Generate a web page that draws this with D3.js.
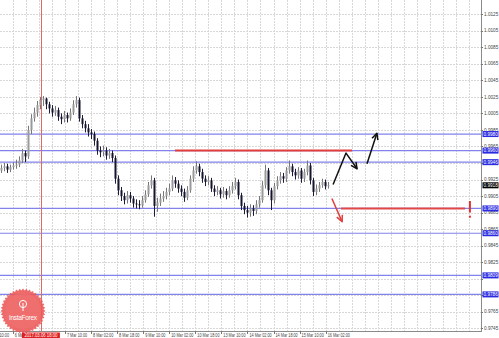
<!DOCTYPE html>
<html><head><meta charset="utf-8">
<script src="https://cdn.jsdelivr.net/npm/d3@7"></script>
<style>html,body{margin:0;padding:0;background:#fff;overflow:hidden}svg{display:block}</style>
</head><body><svg id="c" width="499" height="338"></svg>
<script>
// ---------- DATA ----------
const firstOpen = 0.9936;
const closes = [0.9939,0.9941,0.9937,0.9940,0.9942,0.9943,0.9948,0.9957,0.9953,0.9985,
0.9999,1.0006,1.0015,1.0021,1.0023,1.0016,1.0011,1.0006,1.0009,1.0001,
0.9998,1.0003,0.9999,1.0006,1.0016,1.0021,0.9999,0.9992,0.9987,0.9982,
0.9980,0.9972,0.9960,0.9958,0.9960,0.9954,0.9957,0.9951,0.9926,0.9912,
0.9905,0.9900,0.9906,0.9902,0.9896,0.9895,0.9894,0.9900,0.9907,0.9918,
0.9924,0.9893,0.9897,0.9902,0.9905,0.9910,0.9914,0.9924,0.9920,0.9914,
0.9910,0.9903,0.9912,0.9926,0.9936,0.9941,0.9934,0.9926,0.9922,0.9924,
0.9914,0.9910,0.9912,0.9907,0.9911,0.9906,0.9912,0.9917,0.9922,0.9906,
0.9893,0.9888,0.9885,0.9890,0.9887,0.9895,0.9900,0.9918,0.9936,0.9912,
0.9900,0.9917,0.9924,0.9929,0.9926,0.9936,0.9941,0.9934,0.9930,0.9936,
0.9926,0.9934,0.9942,0.9924,0.9910,0.9914,0.9918,0.9922,0.9917,0.9918];
const highs = [0.9943,0.9945,0.9944,0.9943,0.9946,0.9949,0.9953,0.9962,0.9960,0.9990,
1.0004,1.0012,1.0020,1.0025,1.0026,1.0024,1.0019,1.0015,1.0014,1.0012,
1.0005,1.0008,1.0006,1.0011,1.0021,1.0026,1.0024,1.0003,0.9996,0.9992,
0.9986,0.9983,0.9975,0.9965,0.9966,0.9964,0.9962,0.9960,0.9954,0.9930,
0.9916,0.9909,0.9911,0.9910,0.9905,0.9901,0.9900,0.9905,0.9912,0.9922,
0.9930,0.9927,0.9903,0.9908,0.9911,0.9915,0.9920,0.9930,0.9928,0.9924,
0.9918,0.9914,0.9917,0.9930,0.9941,0.9947,0.9944,0.9938,0.9930,0.9929,
0.9927,0.9918,0.9917,0.9915,0.9916,0.9914,0.9917,0.9922,0.9927,0.9925,
0.9909,0.9897,0.9893,0.9895,0.9894,0.9900,0.9905,0.9923,0.9943,0.9939,
0.9915,0.9921,0.9929,0.9934,0.9933,0.9940,0.9948,0.9944,0.9938,0.9940,
0.9939,0.9938,0.9948,0.9945,0.9927,0.9919,0.9922,0.9926,0.9925,0.9922];
const lows = [0.9933,0.9935,0.9933,0.9934,0.9937,0.9938,0.9940,0.9945,0.9946,0.9950,
0.9980,0.9995,1.0001,1.0010,1.0014,1.0010,1.0005,1.0001,1.0002,0.9996,
0.9992,0.9994,0.9994,0.9996,1.0003,1.0012,0.9995,0.9987,0.9982,0.9977,
0.9974,0.9966,0.9955,0.9952,0.9953,0.9949,0.9950,0.9946,0.9920,0.9906,
0.9899,0.9895,0.9896,0.9897,0.9891,0.9890,0.9889,0.9891,0.9897,0.9904,
0.9914,0.9880,0.9886,0.9893,0.9898,0.9901,0.9906,0.9911,0.9915,0.9909,
0.9905,0.9898,0.9900,0.9909,0.9922,0.9932,0.9929,0.9921,0.9917,0.9918,
0.9910,0.9905,0.9906,0.9902,0.9903,0.9901,0.9903,0.9908,0.9913,0.9901,
0.9888,0.9883,0.9879,0.9880,0.9881,0.9883,0.9891,0.9897,0.9914,0.9906,
0.9888,0.9896,0.9913,0.9920,0.9921,0.9922,0.9932,0.9929,0.9925,0.9926,
0.9921,0.9922,0.9930,0.9919,0.9905,0.9906,0.9910,0.9915,0.9913,0.9914];

const priceTicks = [1.0125,1.0105,1.0085,1.0065,1.0045,1.0025,1.0005,0.9985,0.9965,0.9945,
0.9925,0.9905,0.9885,0.9865,0.9845,0.9825,0.9805,0.9785,0.9765,0.9745];
const timeLabels = ["3 Mar 10:00","6 Mar 02:00","6 Mar 18:00","7 Mar 10:00","8 Mar 02:00","8 Mar 18:00",
"9 Mar 10:00","10 Mar 02:00","10 Mar 18:00","13 Mar 10:00","14 Mar 02:00","14 Mar 18:00","15 Mar 10:00","16 Mar 02:00"];
const levelLines = [0.9980,0.9960,0.9946,0.9890,0.9860,0.9809,0.9786];
const currentPrice = 0.9918;
const markerTimeLabel = "2017.03.06 18:00";
// annotations: [bar index, price]
const upperRed = [[58,0.9960],[117,0.9960]];
const lowerRed = [[113.3,0.9890],[154.7,0.9890]];
const bullPath1 = [[110.7,0.9919],[115,0.9957],[118.7,0.9938]];
const bullPath2 = [[122,0.9944],[125.3,0.9981]];
const bearPath = [[110.3,0.9902],[113.7,0.9874]];
const stopMark = {bar:156.3, top:0.9899, bottom:0.9885, dot:0.9880};
const markerBar = 13.3;

// ---------- LAYOUT ----------
const W = 481, H = 331;
const svg = d3.select("#c");
const y = d3.scaleLinear().domain([0.9745,1.0125]).range([328.3,14.2]);
const x = d3.scaleLinear().domain([0,closes.length-1]).range([1,328]);
const gx = d3.scaleLinear().domain([0,36]).range([-0.3,469.1]);
const font = "Liberation Sans, Arial, sans-serif";
const fs = 4.7;

svg.append("rect").attr("width",499).attr("height",338).attr("fill","#fff");
const defs = svg.append("defs");
defs.append("clipPath").attr("id","clip").append("rect").attr("width",W).attr("height",H);
const plot = svg.append("g").attr("clip-path","url(#clip)");

// grid
plot.selectAll(".hg").data(priceTicks).enter().append("line")
  .attr("x1",0).attr("x2",W).attr("y1",d=>Math.round(y(d))+0.5).attr("y2",d=>Math.round(y(d))+0.5)
  .attr("stroke","#d8d8d8").attr("stroke-dasharray","2,1");
plot.selectAll(".vg").data(d3.range(1,37)).enter().append("line")
  .attr("y1",0).attr("y2",H).attr("x1",d=>Math.round(gx(d))+0.5).attr("x2",d=>Math.round(gx(d))+0.5)
  .attr("stroke","#d8d8d8").attr("stroke-dasharray","2,1");

// level lines
plot.selectAll(".lv").data(levelLines).enter().append("line")
  .attr("x1",0).attr("x2",W).attr("y1",d=>y(d)).attr("y2",d=>y(d))
  .attr("stroke","#8282ec").attr("stroke-width",1.2);

// marker vertical line
plot.append("line").attr("x1",Math.round(x(markerBar))+0.5).attr("x2",Math.round(x(markerBar))+0.5)
  .attr("y1",0).attr("y2",H).attr("stroke","#e06a6a").attr("stroke-width",1);

// candles
const bars = closes.map((c,i)=>({i,o:i===0?firstOpen:closes[i-1],c,h:highs[i],l:lows[i]}));
const cg = plot.append("g");
cg.selectAll(".wk").data(bars).enter().append("line")
  .attr("x1",d=>Math.round(x(d.i))+0.5).attr("x2",d=>Math.round(x(d.i))+0.5)
  .attr("y1",d=>y(d.h)).attr("y2",d=>y(d.l))
  .attr("stroke",d=>d.c>=d.o?"#777":"#1c1c3a").attr("stroke-width",1);
cg.selectAll(".bd").data(bars).enter().append("rect")
  .attr("x",d=>Math.round(x(d.i))-0.5).attr("width",2)
  .attr("y",d=>Math.min(y(d.o),y(d.c))).attr("height",d=>Math.max(1,Math.abs(y(d.o)-y(d.c))))
  .attr("fill",d=>d.c>=d.o?"#9a9a9a":"#15152e");

// red lines
const ln = d3.line().x(d=>x(d[0])).y(d=>y(d[1]));
plot.append("path").attr("d",ln(upperRed)).attr("stroke","#e23c3c").attr("stroke-width",2).attr("fill","none");
plot.append("path").attr("d",ln(lowerRed)).attr("stroke","#e04848").attr("stroke-width",2).attr("fill","none");

// arrows
function arrow(pts,color){
  plot.append("path").attr("d",ln(pts)).attr("stroke",color).attr("stroke-width",1.5).attr("fill","none")
    .attr("stroke-linejoin","round");
  const a = pts[pts.length-2], b = pts[pts.length-1];
  const ax = x(a[0]), ay = y(a[1]), bx = x(b[0]), by = y(b[1]);
  const ang = Math.atan2(by-ay,bx-ax);
  const L = 7;
  const p1 = [bx - L*Math.cos(ang-0.45), by - L*Math.sin(ang-0.45)];
  const p2 = [bx - L*Math.cos(ang+0.45), by - L*Math.sin(ang+0.45)];
  plot.append("path").attr("d",`M${p1[0]},${p1[1]}L${bx},${by}L${p2[0]},${p2[1]}`)
    .attr("stroke",color).attr("stroke-width",1.5).attr("fill","none").attr("stroke-linejoin","round");
}
arrow(bullPath1,"#111");
arrow(bullPath2,"#111");
arrow(bearPath,"#e04040");

// stop mark
plot.append("line").attr("x1",x(stopMark.bar)).attr("x2",x(stopMark.bar))
  .attr("y1",y(stopMark.top)).attr("y2",y(stopMark.bottom)).attr("stroke","#e03030").attr("stroke-width",2);
plot.append("rect").attr("x",x(stopMark.bar)-1).attr("y",y(stopMark.dot)-1).attr("width",2).attr("height",2).attr("fill","#e03030");

// axes lines
svg.append("line").attr("x1",W+0.5).attr("x2",W+0.5).attr("y1",0).attr("y2",H+1).attr("stroke","#8a8a8a");
svg.append("line").attr("x1",0).attr("x2",W+1).attr("y1",H+0.5).attr("y2",H+0.5).attr("stroke","#8a8a8a");

// right labels
svg.selectAll(".pt").data(priceTicks).enter().append("line")
  .attr("x1",W).attr("x2",W+2).attr("y1",d=>Math.round(y(d))+0.5).attr("y2",d=>Math.round(y(d))+0.5).attr("stroke","#777");
const boxYs = levelLines.concat([currentPrice]).map(v=>y(v));
svg.selectAll(".pl").data(priceTicks.filter(d=>!boxYs.some(v=>Math.abs(v-y(d))<4))).enter().append("text")
  .attr("x",W+3).attr("y",d=>y(d)).attr("dy","0.35em")
  .attr("font-family",font).attr("font-size",fs).attr("fill","#444")
  .text(d=>d.toFixed(4));

function box(v,fill){
  const g = svg.append("g");
  g.append("rect").attr("x",W+1.5).attr("y",y(v)-3).attr("width",16).attr("height",6).attr("fill",fill);
  g.append("text").attr("x",W+2.5).attr("y",y(v)).attr("dy","0.35em")
    .attr("font-family",font).attr("font-size",fs).attr("fill","#fff").text(v.toFixed(4));
}
levelLines.forEach(v=>box(v,"#2a2ae0"));
box(currentPrice,"#000");

// bottom labels (the one under the marker box is hidden, as in the terminal)
const mx = x(markerBar);
const labelSlots = timeLabels.map((t,k)=>({t,n:-1+2*k})).filter(d=>Math.abs(gx(d.n)-mx)>8);
defs.append("clipPath").attr("id","bclip").append("rect").attr("x",0).attr("y",H).attr("width",mx-19).attr("height",10);
svg.selectAll(".tt").data(labelSlots).enter().append("line")
  .attr("x1",d=>Math.round(gx(d.n))+0.5).attr("x2",d=>Math.round(gx(d.n))+0.5)
  .attr("y1",H).attr("y2",H+3).attr("stroke","#777");
svg.selectAll(".tl").data(labelSlots).enter().append("text")
  .attr("x",d=>gx(d.n)+2).attr("y",337)
  .attr("font-family",font).attr("font-size",fs).attr("fill","#444")
  .attr("textLength",d=>d.t.length*1.85).attr("lengthAdjust","spacingAndGlyphs")
  .attr("clip-path",d=>gx(d.n)<mx?"url(#bclip)":null)
  .text(d=>d.t);

// watermark
const wm = svg.append("g").attr("transform","translate(23,311)");
const star = d3.range(80).map(k=>[k*2*Math.PI/80, k%2?20.5:22.5]);
wm.append("path").attr("d",d3.lineRadial().curve(d3.curveLinearClosed)(star))
  .attr("fill","#ec5656").attr("opacity",0.88);
wm.append("circle").attr("r",18).attr("fill","#f07070").attr("opacity",0.6);
wm.append("circle").attr("cy",-7).attr("r",3.6).attr("fill","none").attr("stroke","#fff").attr("stroke-width",1);
wm.append("line").attr("x1",0).attr("x2",0).attr("y1",-8).attr("y2",0).attr("stroke","#fff").attr("stroke-width",1);
wm.append("text").attr("y",8.5).attr("text-anchor","middle").attr("font-family",font)
  .attr("font-size",6.5).attr("fill","#fff").attr("textLength",28).text("InstaForex");

// marker time box
svg.append("rect").attr("x",mx-19).attr("y",H+1.5).attr("width",38).attr("height",6.5).attr("fill","#e02020");
svg.append("text").attr("x",mx).attr("y",337).attr("text-anchor","middle")
  .attr("font-family",font).attr("font-size",fs).attr("fill","#fff")
  .attr("textLength",33).attr("lengthAdjust","spacingAndGlyphs").text(markerTimeLabel);
</script>
</body></html>
